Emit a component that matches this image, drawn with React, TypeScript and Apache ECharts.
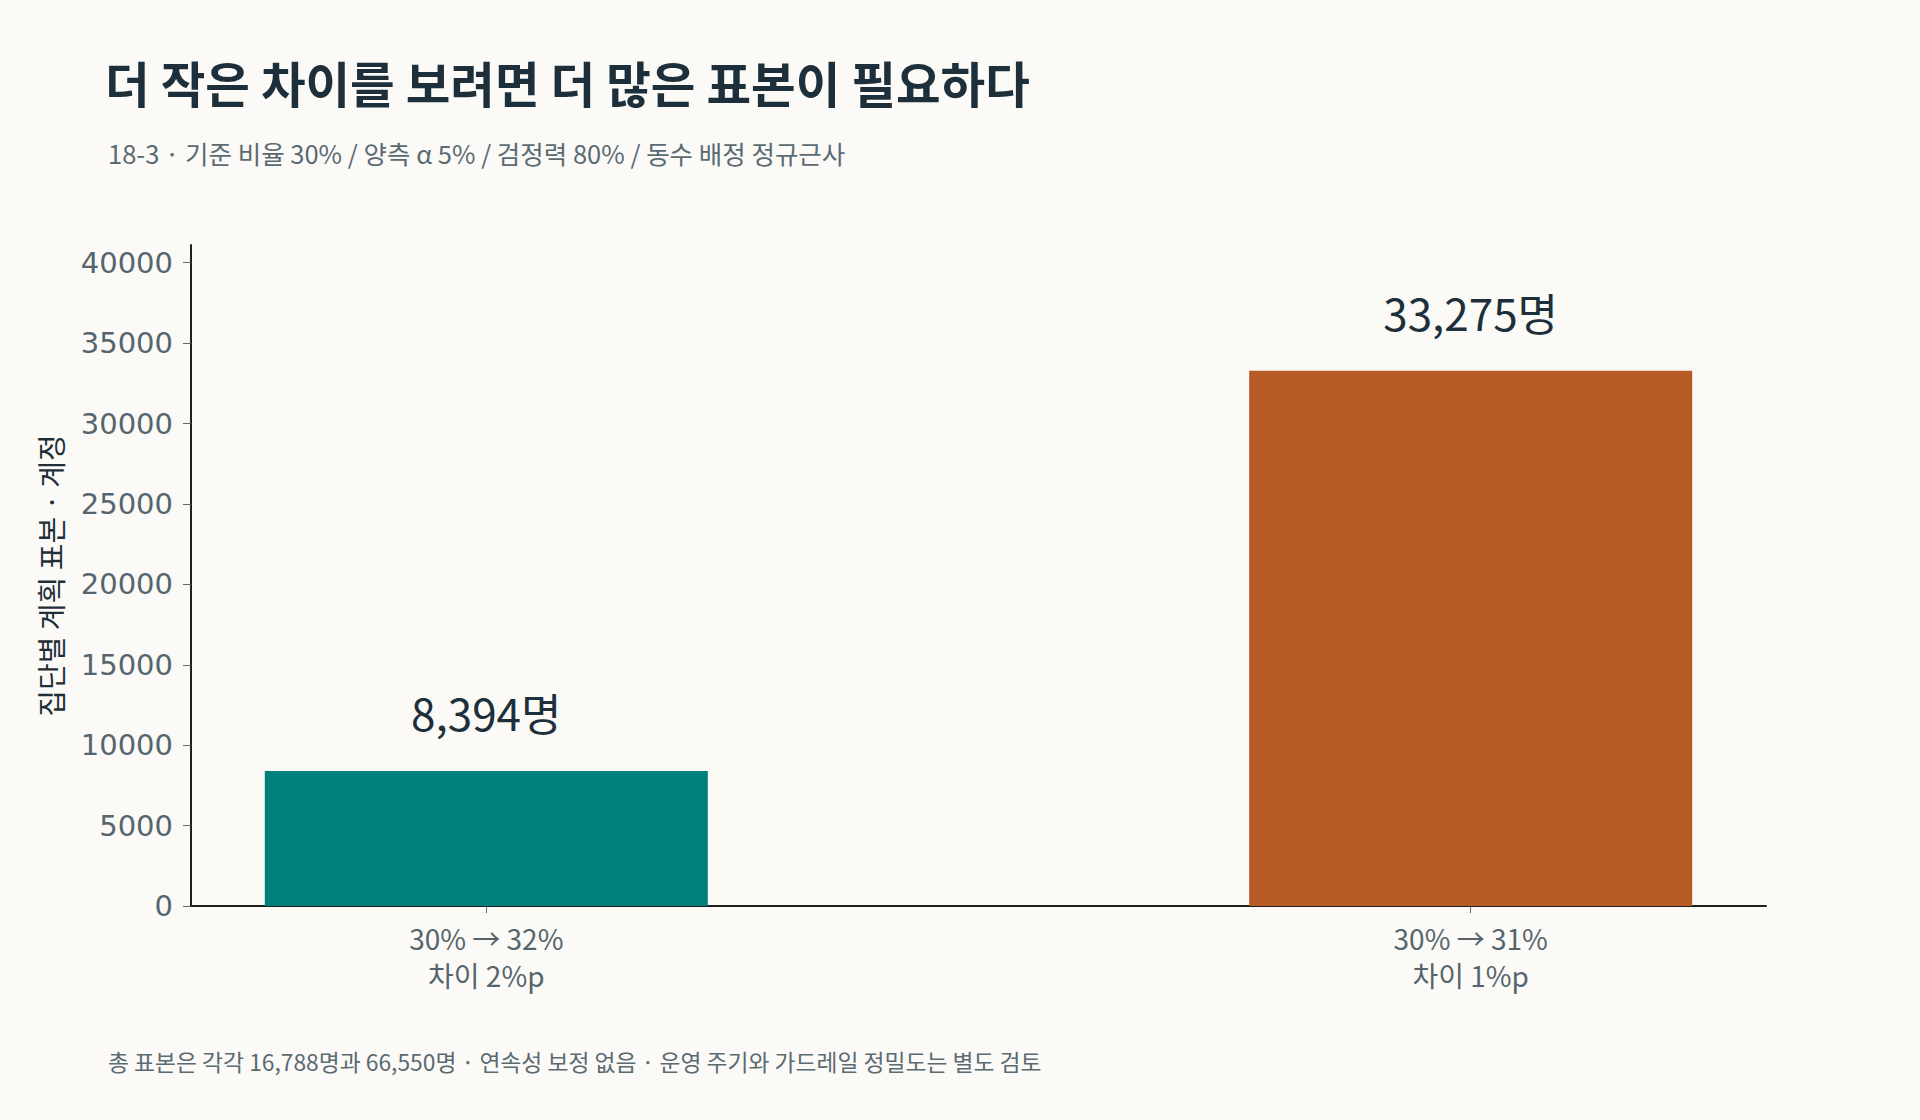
import React, { useEffect, useRef } from "react";
import * as echarts from "echarts";

// chart data
const categories = ["30% → 32%\n차이 2%p", "30% → 31%\n차이 1%p"];
const sampleSizes = [8394, 33275];
const barColors = ["#00807a", "#b85c27"];
const yTicks = [0, 5000, 10000, 15000, 20000, 25000, 30000, 35000, 40000];

const TITLE = "더 작은 차이를 보려면 더 많은 표본이 필요하다";
const SUBTITLE = "18-3 · 기준 비율 30% / 양측 α 5% / 검정력 80% / 동수 배정 정규근사";
const FOOTER = "총 표본은 각각 16,788명과 66,550명 · 연속성 보정 없음 · 운영 주기와 가드레일 정밀도는 별도 검토";
const Y_NAME = "집단별 계획 표본 · 계정";

const KR = '"Noto Sans CJK KR", "Noto Sans", sans-serif';

const App = () => {
  const chartRef = useRef<HTMLDivElement>(null);

  useEffect(() => {
    if (!chartRef.current) return;
    const chart = echarts.init(chartRef.current, undefined, { renderer: "svg" });

    chart.setOption({
      animation: false,
      backgroundColor: "#fbfaf7",
      title: [
        {
          text: TITLE,
          left: 100,
          top: 47,
          textStyle: { fontFamily: KR, fontSize: 48.5, fontWeight: "bold", color: "#1c2f3a", lineHeight: 60 },
        },
        {
          text: SUBTITLE,
          left: 103,
          top: 131,
          textStyle: { fontFamily: KR, fontSize: 25.5, fontWeight: "normal", color: "#5a6a72", lineHeight: 32 },
        },
        {
          text: FOOTER,
          left: 103,
          top: 1041,
          textStyle: { fontFamily: KR, fontSize: 22.8, fontWeight: "normal", color: "#5a6a72", lineHeight: 30 },
        },
      ],
      grid: { left: 191, right: 154, top: 245, bottom: 214 },
      xAxis: {
        type: "value",
        min: -0.3,
        max: 1.3,
        splitLine: { show: false },
        axisLine: { show: true, lineStyle: { color: "#1f1f1f", width: 2 } },
        axisTick: { show: true, length: 7, customValues: [0, 1], lineStyle: { color: "#5a6a72" } },
        axisLabel: {
          customValues: [0, 1],
          formatter: (v: number) => categories[Math.round(v)] ?? "",
          fontFamily: KR,
          fontSize: 28,
          lineHeight: 37,
          color: "#56656d",
          margin: 13,
        },
      },
      yAxis: {
        type: "value",
        min: 0,
        max: 41100,
        interval: 5000,
        name: Y_NAME,
        nameLocation: "middle",
        nameGap: 127,
        nameTextStyle: { fontFamily: KR, fontSize: 29, color: "#1f2f38" },
        splitLine: { show: false },
        axisLine: { show: true, onZero: false, lineStyle: { color: "#1f1f1f", width: 2 } },
        axisTick: { show: true, length: 8, customValues: yTicks, lineStyle: { color: "#5a6a72" } },
        axisLabel: {
          customValues: yTicks,
          formatter: (v: number) => String(v),
          fontFamily: '"DejaVu Sans", sans-serif',
          fontSize: 29,
          color: "#56656d",
          margin: 18,
        },
      },
      series: [
        {
          type: "bar",
          barWidth: 443,
          data: sampleSizes.map((v, i) => ({ value: [i, v], itemStyle: { color: barColors[i] } })),
          label: {
            show: true,
            position: "top",
            distance: 37,
            formatter: (p: any) => p.value[1].toLocaleString("en-US") + "명",
            fontFamily: KR,
            fontSize: 44,
            color: "#1c2f3a",
          },
        },
      ],
    });

    return () => {
      chart.dispose();
    };
  }, []);

  return (
    <div
      ref={chartRef}
      style={{ position: "absolute", left: 0, top: 0, width: 1920, height: 1120 }}
    />
  );
};

export default App;
